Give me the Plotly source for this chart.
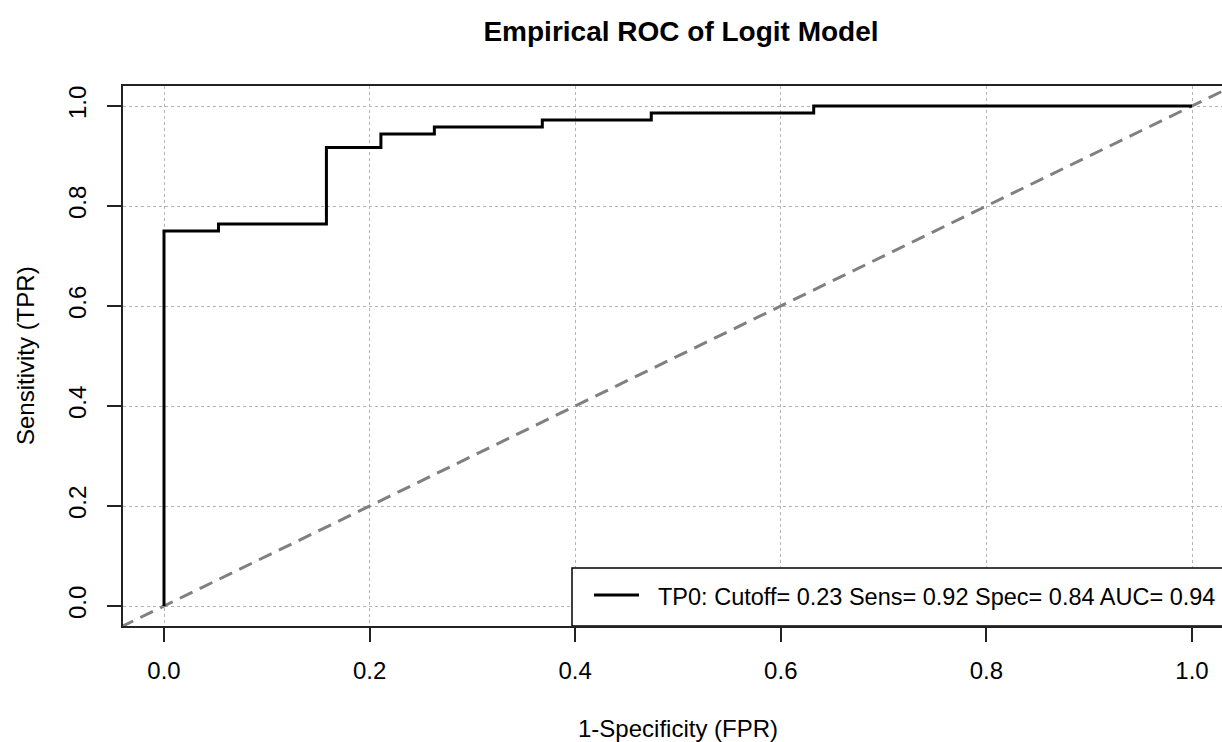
import plotly.graph_objects as go

# ROC curve points
fpr = [0.0, 0.0, 0.053, 0.158, 0.211, 0.263, 0.368, 0.474, 0.632, 1.0]
tpr = [0.0, 0.75, 0.764, 0.917, 0.944, 0.958, 0.972, 0.986, 1.0, 1.0]

# reference diagonal (chance line)
diag_x = [-0.1, 1.1]
diag_y = [-0.1, 1.1]

tick_vals = [0.0, 0.2, 0.4, 0.6, 0.8, 1.0]
tick_text = ["0.0", "0.2", "0.4", "0.6", "0.8", "1.0"]

title_text = "<b>Empirical ROC of Logit Model</b>"
x_title = "1-Specificity (FPR)"
y_title = "Sensitivity (TPR)"
legend_label = "TP0: Cutoff= 0.23 Sens= 0.92 Spec= 0.84 AUC= 0.94"

FONT = "Liberation Sans, Arial, sans-serif"

fig = go.Figure()
fig.add_trace(go.Scatter(x=diag_x, y=diag_y, mode="lines",
                         line=dict(color="#808080", width=3, dash="14px,8px"),
                         showlegend=False, hoverinfo="skip"))
fig.add_trace(go.Scatter(x=fpr, y=tpr, mode="lines", name=legend_label,
                         line=dict(color="black", width=3, shape="hv"),
                         showlegend=False))

W, H = 1222, 742
L, R, T, B = 123, 0, 86, 116
x0px, x1px = 164, 1192   # pixel positions of x = 0 and x = 1
y0px, y1px = 606, 106    # pixel positions of y = 0 and y = 1
xs = x1px - x0px
ys = y0px - y1px
xr = [(L - x0px) / xs, (W - R - x0px) / xs]
yr = [(y0px - (H - B)) / ys, (y0px - T) / ys]

def px2x(p):
    return (p - x0px) / xs

def px2y(p):
    return (y0px - p) / ys

# manual legend box (right side clipped like the reference)
fig.add_shape(type="rect", xref="x", yref="y",
              x0=px2x(572), x1=px2x(1300), y0=yr[0], y1=px2y(568),
              line=dict(color="black", width=1.5), fillcolor="white", layer="above")
fig.add_shape(type="line", xref="x", yref="y",
              x0=px2x(594), x1=px2x(639), y0=px2y(595), y1=px2y(595),
              line=dict(color="black", width=3), layer="above")
fig.add_annotation(xref="x", yref="y", x=px2x(656), y=px2y(597),
                   text=legend_label, showarrow=False, xanchor="left", yanchor="middle",
                   font=dict(family=FONT, size=23.5, color="black"))

# axis titles
fig.add_annotation(xref="paper", yref="paper", x=(678 - L) / (W - L - R),
                   y=-(728 - (H - B)) / (H - T - B),
                   text=x_title, showarrow=False, xanchor="center", yanchor="middle",
                   font=dict(family=FONT, size=24, color="black"))
fig.add_annotation(xref="paper", yref="paper", x=-(L - 25) / (W - L - R),
                   y=(H - B - 356) / (H - T - B),
                   text=y_title, showarrow=False, xanchor="center", yanchor="middle",
                   textangle=-90,
                   font=dict(family=FONT, size=24, color="black"))

fig.update_layout(
    width=W, height=H,
    margin=dict(l=L, r=R, t=T, b=B, pad=0),
    paper_bgcolor="white", plot_bgcolor="white",
    font=dict(family=FONT, size=24, color="black"),
    title=dict(text=title_text, x=681 / W, xanchor="center", xref="container",
               y=1 - 31 / H, yanchor="middle", yref="container",
               font=dict(family=FONT, size=28, color="black")),
    showlegend=False,
)
fig.update_xaxes(range=xr, tickvals=tick_vals, ticktext=tick_text,
                 showgrid=True, gridcolor="#b4b4b4", griddash="3px,3px", gridwidth=1,
                 zeroline=False, showline=True, linecolor="#222222", linewidth=1.5,
                 mirror=True, ticks="outside", ticklen=14, tickwidth=1.5, tickcolor="#222222",
                 ticklabelstandoff=8,
                 tickfont=dict(family=FONT, size=24, color="black"))
fig.update_yaxes(range=yr, tickvals=tick_vals, ticktext=tick_text,
                 showgrid=True, gridcolor="#b4b4b4", griddash="3px,3px", gridwidth=1,
                 zeroline=False, showline=True, linecolor="#222222", linewidth=1.5,
                 mirror=False, ticks="outside", ticklen=14, tickwidth=1.5, tickcolor="#222222",
                 tickangle=-90, ticklabelstandoff=12,
                 tickfont=dict(family=FONT, size=24, color="black"))

fig.write_html("out.html")
